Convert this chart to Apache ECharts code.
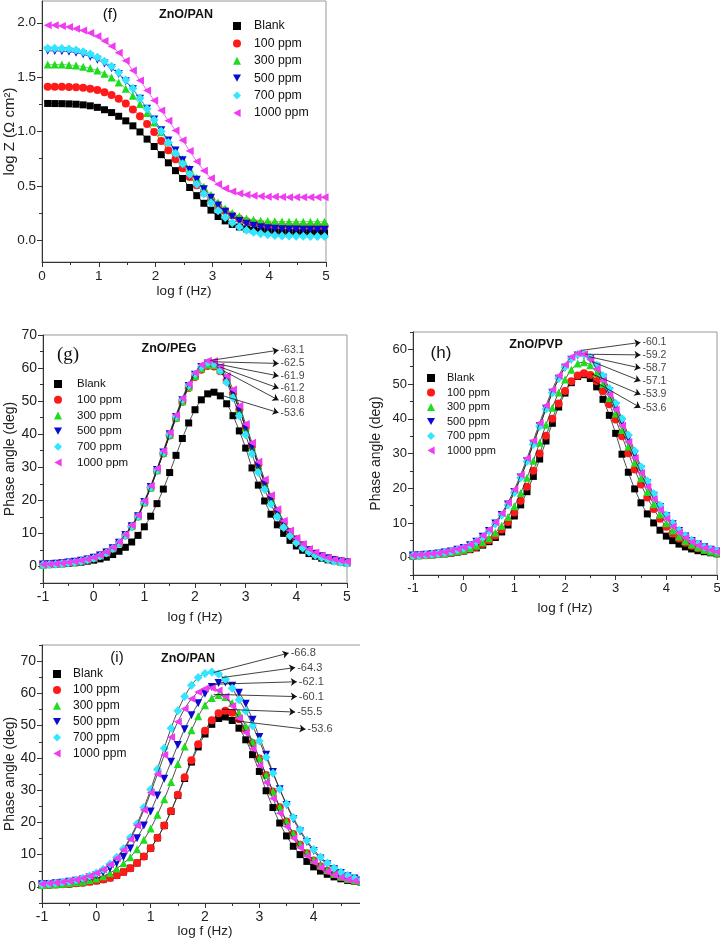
<!DOCTYPE html>
<html><head><meta charset="utf-8">
<script src="https://cdn.jsdelivr.net/npm/echarts@6/dist/echarts.min.js"></script>
<style>
html,body{margin:0;padding:0;background:#fff;}
#main{position:absolute;left:0;top:0;width:720px;height:942px;}
#clipI{position:absolute;left:0;top:600px;width:360px;height:342px;overflow:hidden;}
#chartI{width:400px;height:342px;}
</style></head><body>
<div id="main"></div>
<div id="clipI"><div id="chartI"></div></div>
<script>
// ---------- data ----------
const seriesNames = ['Blank','100 ppm','300 ppm','500 ppm','700 ppm','1000 ppm'];
const fYTicks = [0,0.5,1,1.5,2];
const fYMinor = [0.25,0.75,1.25,1.75];
const gYTicks = [0,10,20,30,40,50,60,70];
const hYTicks = [0,10,20,30,40,50,60];
const iYTicks = [0,10,20,30,40,50,60,70];
const phYMinor = [-5,5,15,25,35,45,55,65,75];

// panel (f): log|Z| vs log f
const fX = [0.1,0.225,0.35,0.475,0.6,0.725,0.85,0.975,1.1,1.225,1.35,1.475,1.6,1.725,1.85,1.975,2.1,2.225,2.35,2.475,2.6,2.725,2.85,2.975,3.1,3.225,3.35,3.475,3.6,3.725,3.85,3.975,4.1,4.225,4.35,4.475,4.6,4.725,4.85,4.975];
const fBlank = [1.258,1.257,1.256,1.254,1.251,1.245,1.236,1.222,1.200,1.174,1.140,1.098,1.052,0.996,0.930,0.862,0.787,0.712,0.640,0.568,0.485,0.410,0.340,0.277,0.218,0.178,0.146,0.122,0.105,0.093,0.085,0.080,0.076,0.074,0.072,0.071,0.070,0.069,0.069,0.068];
const f100 = [1.412,1.412,1.411,1.410,1.407,1.402,1.394,1.382,1.362,1.336,1.302,1.258,1.203,1.140,1.070,0.995,0.912,0.828,0.744,0.662,0.582,0.506,0.436,0.372,0.316,0.268,0.228,0.197,0.174,0.158,0.147,0.140,0.136,0.133,0.131,0.130,0.129,0.129,0.128,0.128];
const f300 = [1.617,1.616,1.615,1.612,1.606,1.596,1.581,1.560,1.532,1.496,1.450,1.394,1.328,1.253,1.170,1.082,0.994,0.908,0.826,0.748,0.660,0.575,0.492,0.415,0.348,0.292,0.250,0.220,0.200,0.188,0.180,0.176,0.174,0.172,0.171,0.171,0.170,0.170,0.170,0.170];
const f500 = [1.742,1.741,1.739,1.734,1.725,1.710,1.688,1.660,1.626,1.582,1.528,1.462,1.388,1.302,1.210,1.110,1.012,0.918,0.826,0.736,0.645,0.556,0.470,0.390,0.320,0.262,0.215,0.178,0.152,0.133,0.120,0.111,0.105,0.101,0.099,0.098,0.097,0.096,0.096,0.096];
const f700 = [1.766,1.765,1.763,1.758,1.749,1.734,1.712,1.683,1.646,1.600,1.543,1.474,1.395,1.306,1.209,1.106,1.002,0.900,0.800,0.703,0.608,0.515,0.427,0.345,0.272,0.210,0.160,0.121,0.093,0.073,0.059,0.050,0.044,0.040,0.038,0.037,0.036,0.035,0.035,0.035];
const f1000 = [1.978,1.976,1.970,1.960,1.945,1.928,1.905,1.876,1.833,1.785,1.725,1.650,1.560,1.470,1.378,1.286,1.192,1.100,1.010,0.920,0.820,0.725,0.640,0.570,0.515,0.475,0.448,0.430,0.418,0.410,0.404,0.401,0.399,0.397,0.396,0.395,0.395,0.395,0.395,0.395];

// phase panels: log f grid
const phX = [-1,-0.875,-0.75,-0.625,-0.5,-0.375,-0.25,-0.125,0,0.125,0.25,0.375,0.5,0.625,0.75,0.875,1,1.125,1.25,1.375,1.5,1.625,1.75,1.875,2,2.125,2.25,2.375,2.5,2.625,2.75,2.875,3,3.125,3.25,3.375,3.5,3.625,3.75,3.875,4,4.125,4.25,4.375,4.5,4.625,4.75,4.875,5];
const phBlank = [0.5,0.6,0.7,0.8,0.9,1.1,1.3,1.6,1.9,2.3,2.8,3.6,4.6,5.8,7.4,9.4,12.0,15.2,19.0,23.4,28.4,33.6,38.7,43.4,47.4,50.4,52.2,52.7,51.6,49.2,45.6,41.0,35.8,29.8,24.6,19.8,15.8,12.6,10.0,7.9,6.2,4.9,3.9,3.1,2.5,2.0,1.7,1.4,1.1];

// (g) ZnO/PEG
const g100 = [0.6,0.7,0.8,1.0,1.2,1.4,1.7,2.1,2.6,3.3,4.2,5.4,7.1,9.4,12.1,15.1,19.3,23.8,29.0,34.2,39.6,44.8,49.8,54.0,57.3,59.5,60.6,60.5,59.0,56.2,52.2,47.4,42.0,36.4,30.8,25.5,20.8,16.7,13.2,10.4,8.2,6.4,5.0,3.9,3.1,2.5,2.0,1.6,1.3];
const g300 = [0.6,0.7,0.8,1.0,1.2,1.4,1.7,2.1,2.6,3.3,4.2,5.5,7.2,9.5,12.2,15.2,19.4,23.9,29.1,34.4,39.8,45.0,50.0,54.3,57.6,59.9,61.0,60.9,59.4,56.5,52.4,47.5,42.0,36.3,30.6,25.3,20.6,16.5,13.1,10.3,8.1,6.4,5.0,3.9,3.1,2.5,2.0,1.6,1.3];
const g500 = [0.6,0.7,0.8,1.0,1.2,1.4,1.7,2.1,2.6,3.3,4.2,5.5,7.2,9.5,12.2,15.2,19.5,24.0,29.2,34.5,40.0,45.2,50.3,54.6,58.0,60.3,61.4,61.3,59.7,56.7,52.5,47.5,42.0,36.2,30.5,25.2,20.5,16.4,13.0,10.2,8.0,6.3,4.9,3.8,3.0,2.4,1.9,1.5,1.2];
const g700 = [0.5,0.6,0.7,0.9,1.1,1.3,1.6,2.0,2.5,3.2,4.1,5.4,7.1,9.4,12.1,15.1,19.4,23.9,29.1,34.5,40.0,45.3,50.4,54.7,58.1,60.4,61.6,61.2,59.2,55.7,51.0,45.6,39.8,34.0,28.4,23.3,18.8,15.0,11.8,9.2,7.2,5.6,4.4,3.4,2.7,2.1,1.6,1.3,1.0];
const g1000 = [0.6,0.7,0.8,1.0,1.2,1.5,1.8,2.2,2.7,3.4,4.4,5.7,7.4,9.7,12.5,15.5,19.8,24.4,29.6,35.0,40.5,45.8,50.9,55.2,58.6,61.0,62.2,62.1,60.5,57.6,53.5,48.6,43.1,37.4,31.7,26.3,21.5,17.3,13.8,10.9,8.6,6.8,5.3,4.2,3.3,2.6,2.1,1.7,1.4];

// (h) ZnO/PVP
const h100 = [0.5,0.6,0.7,0.8,1.0,1.2,1.4,1.7,2.0,2.5,3.1,3.9,5.0,6.4,8.1,10.3,13.0,16.4,20.4,25.0,30.0,35.1,40.0,44.4,48.0,50.8,52.5,53.1,52.6,50.9,48.0,44.2,39.8,35.0,30.1,25.4,21.1,17.3,14.0,11.2,8.9,7.0,5.5,4.3,3.4,2.7,2.1,1.7,1.3];
const h300 = [0.6,0.7,0.8,0.9,1.1,1.3,1.6,1.9,2.3,2.8,3.5,4.4,5.6,7.2,9.2,11.7,14.8,18.6,23.0,27.9,33.1,38.3,43.2,47.6,51.3,54.1,55.9,56.3,55.4,53.2,50.0,46.0,41.5,36.8,32.0,27.3,22.9,18.9,15.4,12.4,9.9,7.8,6.1,4.8,3.8,3.0,2.3,1.8,1.4];
const h500 = [0.6,0.7,0.8,1.0,1.2,1.5,1.8,2.3,2.8,3.6,4.6,6.0,7.7,9.8,12.3,15.3,18.9,23.1,27.8,32.8,37.9,42.9,47.5,51.5,54.7,57.0,58.2,58.3,57.2,55.0,51.8,48.0,43.7,39.1,34.4,29.8,25.4,21.4,17.8,14.6,11.9,9.6,7.7,6.1,4.8,3.8,3.0,2.3,1.8];
const h700 = [0.6,0.7,0.8,1.0,1.2,1.5,1.8,2.3,2.8,3.6,4.6,5.9,7.6,9.7,12.2,15.2,18.8,23.0,27.7,32.7,37.8,42.8,47.5,51.6,54.9,57.3,58.5,58.6,57.6,55.5,52.4,48.7,44.5,40.0,35.3,30.7,26.2,22.1,18.4,15.1,12.3,9.9,7.9,6.3,5.0,3.9,3.1,2.4,1.9];
const h1000 = [0.7,0.8,0.9,1.1,1.3,1.6,2.0,2.5,3.0,3.8,4.9,6.4,8.1,10.2,12.8,15.9,19.6,23.9,28.6,33.7,38.8,43.8,48.4,52.4,55.6,57.8,58.9,58.6,57.0,54.4,51.0,47.0,42.6,38.0,33.3,28.7,24.4,20.4,16.9,13.8,11.2,9.0,7.2,5.7,4.5,3.5,2.8,2.2,1.7];

// (i) ZnO/PAN
const i100 = [0.5,0.6,0.7,0.8,0.9,1.1,1.3,1.6,1.9,2.3,2.8,3.6,4.6,5.8,7.4,9.4,12.0,15.2,19.0,23.5,28.6,34.0,39.3,44.2,48.4,51.7,53.8,54.6,54.0,52.0,48.8,44.6,39.8,34.7,29.6,24.7,20.3,16.4,13.1,10.4,8.2,6.4,5.0,3.9,3.1,2.4,1.9,1.5,1.2];
const i300 = [0.6,0.7,0.8,1.0,1.2,1.4,1.7,2.1,2.6,3.3,4.3,5.7,7.3,9.2,11.7,14.6,18.1,22.4,27.2,32.5,38.1,43.5,48.6,52.9,56.3,58.6,59.5,58.9,57.0,53.9,49.8,45.0,39.9,34.7,29.6,24.8,20.4,16.6,13.3,10.6,8.4,6.6,5.2,4.1,3.2,2.5,2.0,1.6,1.3];
const i500 = [0.8,0.9,1.1,1.3,1.6,1.9,2.3,2.9,3.6,4.5,5.7,7.3,9.3,11.9,15.1,19.0,23.4,28.3,33.5,38.8,44.0,48.9,53.2,56.9,59.9,62.0,63.2,63.4,62.4,60.2,56.8,51.8,46.5,41.0,35.6,30.3,25.4,21.0,17.2,13.9,11.1,8.8,7.0,5.5,4.3,3.3,2.6,2.0,1.5];
const i700 = [0.8,1.0,1.2,1.4,1.7,2.1,2.7,3.4,4.3,5.5,7.1,9.2,11.8,15.3,19.6,24.6,30.2,36.5,43.0,49.2,54.6,59.0,62.5,64.9,66.2,66.6,66.0,64.3,61.6,58.0,54.5,50.0,45.2,40.2,35.2,30.3,25.7,21.5,17.7,14.4,11.6,9.3,7.4,5.8,4.5,3.5,2.7,2.1,1.6];
const i1000 = [0.9,1.1,1.3,1.5,1.8,2.2,2.7,3.4,4.3,5.4,6.9,8.9,11.4,14.8,19.0,23.8,29.2,35.0,40.9,46.4,51.2,55.2,58.3,60.4,61.5,61.7,60.9,59.0,56.1,52.3,47.8,42.8,37.6,32.4,27.4,22.8,18.7,15.1,12.1,9.6,7.6,6.0,4.7,3.7,2.9,2.3,1.8,1.4,1.1];

// peak annotations (fitted phase values)
const gPeakLabels = ['-63.1','-62.5','-61.9','-61.2','-60.8','-53.6'];
const hPeakLabels = ['-60.1','-59.2','-58.7','-57.1','-53.9','-53.6'];
const iPeakLabels = ['-66.8','-64.3','-62.1','-60.1','-55.5','-53.6'];

// ---------- styling / annotation geometry ----------
const COLORS = ['#000000','#ff1a1a','#1fdc1f','#0a0ad2','#33e6ff','#f03cf0'];
const SYMBOLS = ['rect','circle','triangle','path://M0,0L10,0L5,9Z','diamond','path://M9,0L9,10L0,5Z'];
const SIZES = [7,8,8,8,9,8];
const FONT = 'Liberation Sans';
const gArrowFrom = [[2.3,62.3],[2.35,61.9],[2.42,61.3],[2.5,60.3],[2.56,59.2],[2.47,52.0]];
const gArrowTo = [[3.65,65.4],[3.65,61.4],[3.65,57.6],[3.65,53.9],[3.65,50.3],[3.65,46.5]];
const hArrowFrom = [[2.32,59.7],[2.40,58.6],[2.47,57.9],[2.53,56.5],[2.53,52.9],[2.47,51.7]];
const hArrowTo = [[3.49,62.0],[3.49,58.4],[3.49,54.6],[3.49,50.9],[3.49,47.0],[3.49,43.2]];
const iArrowFrom = [[2.16,66.5],[2.31,64.9],[2.10,62.8],[2.16,59.7],[2.31,55.1],[2.31,52.0]];
const iArrowTo = [[3.54,72.5],[3.66,68.0],[3.69,63.6],[3.69,59.0],[3.66,54.2],[3.85,48.9]];

function mkSeries(idx, xs, ys, xi, yi, lineColor){
  return {type:'line', name:seriesNames[idx], xAxisIndex:xi, yAxisIndex:yi,
    data: xs.map((x,k)=>[x, ys[k]]), symbol:SYMBOLS[idx], symbolSize:SIZES[idx],
    showSymbol:true, smooth:0.3, animation:false, z:2+idx,
    lineStyle:{color: lineColor || COLORS[idx], width:0.8},
    itemStyle:{color:COLORS[idx], borderWidth:0}};
}
function mkArrows(from, to, labels, xi, yi, fs){
  return [{type:'lines', coordinateSystem:'cartesian2d', xAxisIndex:xi, yAxisIndex:yi, z:20,
    symbol:['none','arrow'], symbolSize:6, silent:true, animation:false,
    lineStyle:{color:'#111', width:0.8, opacity:1},
    data: from.map((p,k)=>({coords:[p, to[k]]}))},
   {type:'scatter', xAxisIndex:xi, yAxisIndex:yi, symbolSize:0, silent:true, animation:false, z:21,
    data: to.map((p,k)=>({value:p, name:labels[k]})),
    label:{show:true, position:'right', distance:2, formatter:'{b}', fontSize:fs, fontFamily:FONT, color:'#111'}}];
}
function xAx(grid, min, max, fs, gap){
  return {type:'value', gridIndex:grid, min, max, interval:1,
    name:'log f (Hz)', nameLocation:'middle', nameGap:gap, nameMoveOverlap:false,
    nameTextStyle:{fontSize:13.5, fontFamily:FONT, color:'#222'},
    axisLine:{show:true, onZero:false, lineStyle:{color:'#333'}},
    axisTick:{show:true, inside:false, length:5, lineStyle:{color:'#333'}},
    minorTick:{show:true, splitNumber:2, length:3, lineStyle:{color:'#333'}},
    axisLabel:{fontSize:fs, fontFamily:FONT, color:'#222', margin:7},
    splitLine:{show:false}, minorSplitLine:{show:false}};
}
function yAx(grid, min, max, majors, fmt, name, fs, gap, nfs){
  return {type:'value', gridIndex:grid, min, max, name, nameLocation:'middle', nameGap:gap, nameMoveOverlap:false,
    nameTextStyle:{fontSize:nfs, fontFamily:FONT, color:'#222'},
    axisLine:{show:true, onZero:false, lineStyle:{color:'#333'}},
    axisTick:{show:true, inside:false, length:5, customValues:majors, lineStyle:{color:'#333'}},
    axisLabel:{customValues:majors, formatter:fmt, fontSize:fs, fontFamily:FONT, color:'#222', margin:6},
    splitLine:{show:false}};
}
function yMinor(grid, min, max, minors){
  return {type:'value', gridIndex:grid, min, max, position:'left',
    axisLine:{show:false, onZero:false}, axisLabel:{show:false},
    axisTick:{show:true, inside:false, length:3, customValues:minors.filter(v=>v>=min && v<=max), lineStyle:{color:'#333'}},
    splitLine:{show:false}};
}
function mkLegend(left, top, gap, fs, textPad){
  return {orient:'vertical', left, top, itemGap:gap, itemWidth:8, itemHeight:8, padding:0,
    data: seriesNames.map((n,k)=>({name:n, icon:SYMBOLS[k]})), selectedMode:false,
    textStyle:{fontSize:fs, fontFamily:FONT, color:'#111', padding:[0,0,0,textPad], lineHeight:14}};
}
function txt(x, y, s, fs, bold, family){
  return {type:'text', x, y, style:{text:s, fontSize:fs, fontFamily:family||FONT, fontWeight:bold?'bold':'normal', fill:'#111', align:'center', verticalAlign:'middle'}};
}
const phFmt = v => String(v);
function mkGrid(l, r, t, b){
  return {left:l, right:r, top:t, bottom:b, containLabel:false, outerBoundsMode:'none',
    show:true, borderColor:'#999', borderWidth:1, backgroundColor:'transparent'};
}

// ---------- main chart: f, g, h ----------
const main = echarts.init(document.getElementById('main'), null, {renderer:'canvas'});
const series = [];
[fBlank,f100,f300,f500,f700,f1000].forEach((d,k)=>series.push(mkSeries(k, fX, d, 0, 0)));
[phBlank,g100,g300,g500,g700,g1000].forEach((d,k)=>series.push(mkSeries(k, phX, d, 1, 2, '#222')));
[phBlank,h100,h300,h500,h700,h1000].forEach((d,k)=>series.push(mkSeries(k, phX, d, 2, 4, '#222')));
series.push(...mkArrows(gArrowFrom, gArrowTo, gPeakLabels, 1, 2, 10.5));
series.push(...mkArrows(hArrowFrom, hArrowTo, hPeakLabels, 2, 4, 10.5));

main.setOption({
  animation:false,
  grid:[ mkGrid(42,394,1,680), mkGrid(43,373,335,359), mkGrid(413,3,332,367) ],
  xAxis:[ xAx(0,0,5,13.5,22), xAx(1,-1,5,14,27), xAx(2,-1,5,13,26) ],
  yAxis:[
    yAx(0,-0.2,2.2,fYTicks,v=>v.toFixed(1),'log Z (Ω cm²)',13.5,25,15),
    yMinor(0,-0.2,2.2,fYMinor),
    yAx(1,-5,70,gYTicks,phFmt,'Phase angle (deg)',14,26,14),
    yMinor(1,-5,70,phYMinor),
    yAx(2,-5,65,hYTicks,phFmt,'Phase angle (deg)',13,30,14),
    yMinor(2,-5,65,phYMinor)
  ],
  legend:[ mkLegend(233,19,3.4,12.3,8), mkLegend(54,377,1.7,11.5,10), mkLegend(427,371,0.5,11,7) ],
  series,
  graphic:[
    txt(110,15,'(f)',15.5,false), txt(186,15,'ZnO/PAN',12.5,true),
    txt(68,355,'(g)',19,false,'Liberation Serif'), txt(169,349,'ZnO/PEG',12.5,true),
    txt(441,353,'(h)',17,false), txt(536,345,'ZnO/PVP',12.5,true)
  ]
});

// ---------- panel i (clipped at the right edge like the source) ----------
const chartI = echarts.init(document.getElementById('chartI'), null, {renderer:'canvas'});
const iSeries = [];
[phBlank,i100,i300,i500,i700,i1000].forEach((d,k)=>iSeries.push(mkSeries(k, phX, d, 0, 0, '#222')));
iSeries.push(...mkArrows(iArrowFrom, iArrowTo, iPeakLabels, 0, 0, 11));
chartI.setOption({
  animation:false,
  grid:[ mkGrid(42,32,45,39) ],
  xAxis:[ xAx(0,-1,5,14,21) ],
  yAxis:[ yAx(0,-5,75,iYTicks,phFmt,'Phase angle (deg)',14,25,14), yMinor(0,-5,75,phYMinor) ],
  legend:[ mkLegend(53,67,1.9,12,7) ],
  series:iSeries,
  graphic:[ txt(117,58,'(i)',15,false), txt(188,59,'ZnO/PAN',12.5,true) ]
});
</script></body></html>
